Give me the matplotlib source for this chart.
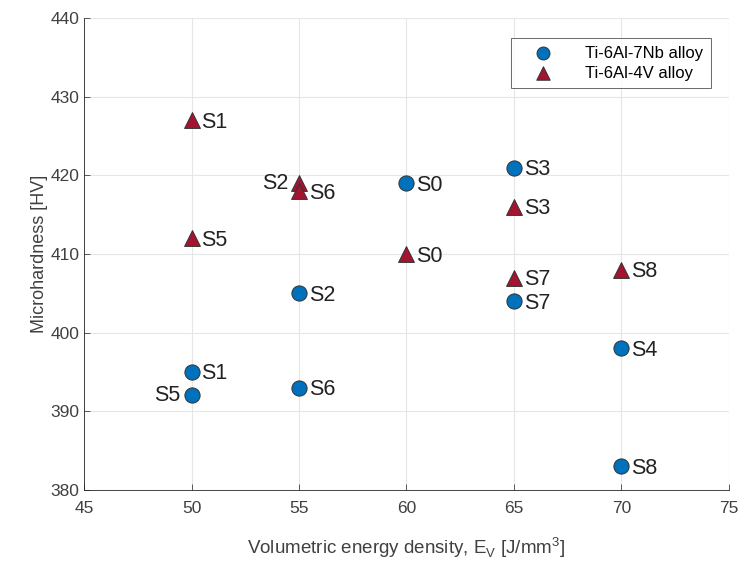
import matplotlib.pyplot as plt

plt.rcParams['font.family'] = ['Liberation Sans', 'DejaVu Sans']

# Ti-6Al-7Nb alloy
nb_names = ['S0', 'S1', 'S2', 'S3', 'S4', 'S5', 'S6', 'S7', 'S8']
nb_ev = [60, 50, 55, 65, 70, 50, 55, 65, 70]
nb_hv = [419, 395, 405, 421, 398, 392, 393, 404, 383]

# Ti-6Al-4V alloy
v_names = ['S0', 'S1', 'S2', 'S3', 'S5', 'S6', 'S7', 'S8']
v_ev = [60, 50, 55, 65, 50, 55, 65, 70]
v_hv = [410, 427, 419, 416, 412, 418, 407, 408]

left_labels_nb = ['S5']
left_labels_v = ['S2']

fig = plt.figure(figsize=(7.39, 5.88), dpi=100)
ax = fig.add_axes([0.114, 0.167, 0.872, 0.802])

ax.scatter(nb_ev, nb_hv, s=120, marker='o', color='#0072BD', edgecolors='#333333',
           linewidths=0.7, label='Ti-6Al-7Nb alloy', zorder=3)
ax.scatter(v_ev, v_hv, s=130, marker='^', color='#A2142F', edgecolors='#333333',
           linewidths=0.7, label='Ti-6Al-4V alloy', zorder=3)

for names, xs, ys, lefts in [(nb_names, nb_ev, nb_hv, left_labels_nb),
                             (v_names, v_ev, v_hv, left_labels_v)]:
    for n, x, y in zip(names, xs, ys):
        if n in lefts:
            ax.annotate(n, (x, y), xytext=(-8, 0), textcoords='offset points',
                        ha='right', va='center', fontsize=15.5, color='#222222')
        else:
            ax.annotate(n, (x, y), xytext=(7, -1.5), textcoords='offset points',
                        ha='left', va='center', fontsize=15.5, color='#222222')

ax.set_xlim(45, 75)
ax.set_ylim(380, 440)
ax.set_xticks(range(45, 76, 5))
ax.set_yticks(range(380, 441, 10))
ax.grid(True, color='#e6e6e6', linewidth=0.8)
ax.set_axisbelow(True)
for sp in ax.spines.values():
    sp.set_color('#262626')
    sp.set_linewidth(0.6)
ax.spines['top'].set_visible(False)
ax.spines['right'].set_visible(False)
ax.tick_params(colors='#404040', labelsize=12.5, direction='in', length=4, width=0.6)
ax.tick_params(axis='x', pad=8)

ax.set_xlabel('Volumetric energy density, E$_\\mathregular{V}$ [J/mm$^\\mathregular{3}$]',
              fontsize=13.5, color='#404040', labelpad=14)
ax.set_ylabel('Microhardness [HV]', fontsize=13, color='#404040', labelpad=2)

leg = ax.legend(loc='upper right', bbox_to_anchor=(0.985, 0.975), fontsize=12,
                frameon=True, fancybox=False, edgecolor='#262626', borderpad=0.45,
                handletextpad=1.0, labelspacing=0.3, markerscale=0.85, handlelength=3.0)
leg.get_frame().set_linewidth(0.6)

fig.savefig('out.png', dpi=100)
